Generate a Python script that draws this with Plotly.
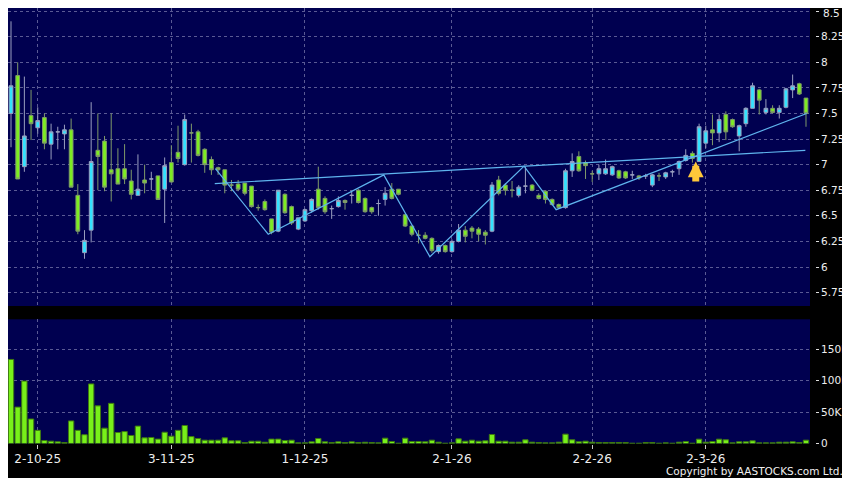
import plotly.graph_objects as go

# daily candles (index 0 = first bar on the left)
opens = [7.50, 7.87, 6.98, 7.48, 7.36, 7.46, 7.20, 7.32, 7.30, 7.34,
         6.70, 6.14, 6.36, 7.14, 7.23, 6.95, 6.96, 6.96, 6.84, 6.70,
         6.85, 6.86, 6.89, 6.76, 7.02, 7.12, 7.00, 7.31, 7.32, 7.15,
         7.05, 6.97, 6.95, 6.80, 6.81, 6.82, 6.79, 6.58, 6.64, 6.47,
         6.35, 6.71, 6.59, 6.37, 6.45, 6.55, 6.76, 6.67, 6.57, 6.59,
         6.65, 6.70, 6.75, 6.67, 6.58, 6.62, 6.66, 6.76, 6.76, 6.51,
         6.40, 6.31, 6.31, 6.28, 6.15, 6.21, 6.15, 6.25, 6.36, 6.38,
         6.37, 6.34, 6.35, 6.85, 6.80, 6.75, 6.70, 6.79, 6.80, 6.70,
         6.74, 6.66, 6.61, 6.58, 6.94, 7.08, 7.02, 6.91, 6.91, 6.91,
         6.90, 6.94, 6.93, 6.90, 6.89, 6.89, 6.80, 6.89, 6.88, 6.93,
         6.96, 7.04, 7.11, 7.03, 7.21, 7.34, 7.31, 7.49, 7.44, 7.28,
         7.40, 7.55, 7.73, 7.51, 7.55, 7.51, 7.56, 7.73, 7.79, 7.65]
highs = [8.40, 8.00, 7.86, 7.73, 7.56, 7.50, 7.40, 7.37, 7.39, 7.45,
         6.81, 6.36, 7.61, 7.50, 7.28, 7.50, 7.16, 7.20, 6.95, 7.10,
         7.00, 6.93, 6.89, 7.07, 7.19, 7.38, 7.49, 7.40, 7.34, 7.16,
         7.08, 6.98, 6.95, 6.85, 6.85, 6.82, 6.79, 6.61, 6.66, 6.47,
         6.75, 6.72, 6.60, 6.48, 6.57, 6.67, 6.98, 6.69, 6.60, 6.69,
         6.66, 6.74, 6.76, 6.68, 6.59, 6.66, 6.78, 6.82, 6.76, 6.52,
         6.40, 6.36, 6.34, 6.29, 6.22, 6.22, 6.27, 6.42, 6.40, 6.40,
         6.39, 6.36, 6.83, 6.89, 6.82, 6.84, 6.80, 6.98, 6.81, 6.72,
         6.75, 6.67, 6.62, 6.96, 7.11, 7.13, 7.04, 6.94, 7.00, 7.05,
         6.99, 6.95, 6.94, 6.94, 6.90, 6.91, 6.91, 6.92, 6.93, 6.95,
         7.04, 7.15, 7.13, 7.40, 7.38, 7.49, 7.49, 7.52, 7.45, 7.39,
         7.56, 7.80, 7.74, 7.64, 7.58, 7.58, 7.75, 7.88, 7.80, 7.65]
lows = [7.17, 6.86, 6.93, 7.24, 7.30, 7.15, 7.05, 7.15, 7.15, 6.78,
        6.32, 6.08, 6.24, 6.75, 6.74, 6.64, 6.81, 6.81, 6.66, 6.70,
        6.72, 6.75, 6.66, 6.43, 6.83, 7.02, 6.99, 7.02, 7.08, 6.92,
        6.90, 6.90, 6.72, 6.74, 6.74, 6.70, 6.58, 6.55, 6.55, 6.32,
        6.34, 6.52, 6.41, 6.36, 6.44, 6.53, 6.56, 6.52, 6.47, 6.58,
        6.56, 6.62, 6.62, 6.53, 6.52, 6.50, 6.60, 6.66, 6.70, 6.39,
        6.30, 6.23, 6.27, 6.14, 6.13, 6.14, 6.14, 6.24, 6.24, 6.28,
        6.25, 6.22, 6.34, 6.70, 6.70, 6.68, 6.68, 6.72, 6.74, 6.66,
        6.62, 6.60, 6.57, 6.57, 6.88, 6.93, 6.86, 6.83, 6.85, 6.90,
        6.89, 6.86, 6.86, 6.86, 6.85, 6.86, 6.78, 6.84, 6.86, 6.88,
        6.90, 7.03, 7.02, 7.03, 7.16, 7.19, 7.22, 7.24, 7.36, 7.13,
        7.37, 7.55, 7.49, 7.49, 7.50, 7.45, 7.55, 7.65, 7.68, 7.37]
closes = [7.77, 6.86, 7.28, 7.40, 7.43, 7.21, 7.32, 7.32, 7.34, 6.78,
          6.35, 6.26, 7.03, 7.08, 6.78, 6.91, 6.81, 6.86, 6.71, 6.76,
          6.82, 6.86, 6.66, 6.99, 6.83, 7.06, 7.44, 7.31, 7.09, 7.00,
          6.95, 6.95, 6.80, 6.80, 6.76, 6.72, 6.59, 6.58, 6.56, 6.34,
          6.75, 6.53, 6.43, 6.48, 6.56, 6.66, 6.58, 6.54, 6.57, 6.65,
          6.63, 6.70, 6.63, 6.54, 6.54, 6.62, 6.72, 6.67, 6.71, 6.40,
          6.32, 6.31, 6.28, 6.16, 6.21, 6.15, 6.25, 6.36, 6.30, 6.35,
          6.32, 6.31, 6.80, 6.72, 6.75, 6.75, 6.78, 6.79, 6.75, 6.67,
          6.66, 6.61, 6.58, 6.94, 7.03, 6.94, 6.99, 6.91, 6.96, 6.96,
          6.98, 6.87, 6.87, 6.90, 6.87, 6.89, 6.90, 6.89, 6.92, 6.93,
          7.03, 7.09, 7.06, 7.37, 7.33, 7.31, 7.44, 7.32, 7.37, 7.38,
          7.55, 7.77, 7.63, 7.55, 7.51, 7.55, 7.74, 7.77, 7.69, 7.50]
# volume in thousands of shares
volumes = [134, 58, 99.5, 39, 21, 4.8, 3.7, 2.7, 1.6, 36,
           21, 14, 95, 60, 24.5, 64, 17.5, 19, 12.8, 27.7,
           9, 9.6, 7, 18, 11.7, 21, 28.7, 11, 8, 5.3,
           5.3, 5.3, 9, 4.3, 4.3, 1.6, 3.7, 3.7, 2, 7,
           7, 4.8, 5.3, 1, 1, 2.7, 8, 2.7, 1.6, 2.7,
           1.6, 2.7, 1.6, 2, 1.6, 1, 8.5, 3.2, 0.5, 8.5,
           3.2, 3.2, 2.7, 5.3, 2.1, 0.5, 1.0, 7.4, 3.7, 5.3,
           3.7, 4.3, 14.4, 3.7, 3.7, 2.1, 2.1, 5.9, 2.1, 1.6,
           1.0, 1.0, 2.1, 14.9, 5.9, 2.7, 3.7, 2.1, 1.6, 1.6,
           1.6, 1.6, 1.6, 0.5, 0.5, 1.6, 1.6, 0.5, 1.0, 0.5,
           2.1, 3.2, 0.5, 6.9, 2.1, 3.2, 6.9, 5.9, 1.0, 2.7,
           2.7, 4.3, 1.0, 1.0, 1.0, 2.1, 2.1, 2.7, 1.6, 5.3]
days = list(range(len(closes)))

# x axis labels (first trading day of each month)
tick_days = [4, 24, 44, 66, 87, 104]
tick_labels = ['2-10-25', '3-11-25', '1-12-25', '2-1-26', '2-2-26', '2-3-26']

# price axis ticks; the top one sits on the edge, so its label is placed by hand
price_ticks = [5.75, 6, 6.25, 6.5, 6.75, 7, 7.25, 7.5, 7.75, 8, 8.25, 8.5]
price_labels = ['5.75', '6', '6.25', '6.5', '6.75', '7', '7.25', '7.5', '7.75',
                '8', '8.25', '']
top_price_label = '8.5'

# pattern lines drawn on the chart: (bar index, price)
zigzag_x = [30.6, 38.5, 55.8, 62.7, 76.8, 81.6, 119.1]
zigzag_y = [6.96, 6.32, 6.90, 6.10, 6.985, 6.56, 7.50]
neck_x = [30.5, 118.9]
neck_y = [6.815, 7.14]

# breakout arrow (bar index, tip price, tail price)
arrow_day = 102.5
arrow_tip = 7.03
arrow_tail = 6.82

vol_ticks = [0, 50, 100, 150]
vol_labels = ['0', '50K', '100K', '150K']

# the page puts the plot 8px in from the top-left corner, so size the figure
# to what is left and convert window pixels to figure fractions
PAGE_OFFSET = 8
W, H = 850 - PAGE_OFFSET, 478 - PAGE_OFFSET


def fx(px):
    return (px - PAGE_OFFSET) / W


def fy(py):
    return 1 - (py - PAGE_OFFSET) / H


lineColor = '#5fb4ee'
labelFont = dict(size=10.5, color='#eeeeee')
gridSettings = dict(showgrid=True, gridcolor='#5a5a94', griddash='3px,3px',
                    gridwidth=1, zeroline=False, showline=False, automargin=False)

fig = go.Figure()
fig.add_trace(go.Candlestick(
    x=days, open=opens, high=highs, low=lows, close=closes,
    increasing=dict(fillcolor='#33e2ff', line=dict(color='#9a9fbf', width=1)),
    decreasing=dict(fillcolor='#7ded22', line=dict(color='#7f9a6a', width=1)),
    whiskerwidth=0, xaxis='x', yaxis='y', hoverinfo='skip'))
fig.add_trace(go.Scatter(x=neck_x, y=neck_y, mode='lines',
                         line=dict(color=lineColor, width=1.2), xaxis='x', yaxis='y'))
fig.add_trace(go.Scatter(x=zigzag_x, y=zigzag_y, mode='lines',
                         line=dict(color=lineColor, width=1.2), xaxis='x', yaxis='y'))
fig.add_trace(go.Bar(x=days, y=volumes,
                     marker=dict(color='#78f01a', line=dict(color='#3f7a10', width=1)),
                     xaxis='x2', yaxis='y2'))

# arrow below the breakout bar
fig.add_annotation(x=arrow_day, y=arrow_tip, ax=arrow_day, ay=arrow_tail,
                   xref='x', yref='y', axref='x', ayref='y', text='',
                   showarrow=True, arrowhead=2, arrowsize=0.45, arrowwidth=7,
                   arrowcolor='#ffc83a')
fig.add_annotation(x=fx(820.5), y=fy(13.5), xref='paper', yref='paper',
                   xanchor='left', yanchor='middle', showarrow=False,
                   text=top_price_label, font=labelFont)
fig.add_annotation(x=fx(845), y=fy(471), xref='paper', yref='paper',
                   xanchor='right', yanchor='middle', showarrow=False,
                   text='Copyright by AASTOCKS.com Ltd.',
                   font=dict(size=10.5, color='#f0f0f0'))

xDomain = [fx(8), fx(810)]
xRange = [-0.45, 119.6]
fig.update_layout(
    width=W, height=H, margin=dict(l=0, r=0, t=0, b=0, autoexpand=False),
    paper_bgcolor='black', plot_bgcolor='#000050',
    showlegend=False, boxgap=0.2, bargap=0.2,
    font=dict(family='DejaVu Sans', size=11, color='#eeeeee'),
    xaxis=dict(domain=xDomain, range=xRange, anchor='y', tickvals=tick_days,
               showticklabels=False, ticks='', rangeslider=dict(visible=False),
               **gridSettings),
    yaxis=dict(domain=[fy(306), fy(8)], range=[5.619, 8.53],
               tickvals=price_ticks, ticktext=price_labels, side='right',
               anchor='free', position=fx(815), ticks='outside', ticklen=3,
               tickcolor='#dddddd', tickfont=labelFont, **gridSettings),
    xaxis2=dict(domain=xDomain, range=xRange, anchor='y2', tickvals=tick_days,
                ticktext=tick_labels, ticks='outside', ticklen=4, tickcolor='#cccccc',
                tickfont=dict(size=12), **gridSettings),
    yaxis2=dict(domain=[fy(443.5), fy(319.3)], range=[0, 198],
                tickvals=vol_ticks, ticktext=vol_labels, side='right', anchor='free',
                position=fx(815), ticks='outside', ticklen=3, tickcolor='#dddddd',
                tickfont=labelFont, **gridSettings),
)

fig.write_html("out.html")
